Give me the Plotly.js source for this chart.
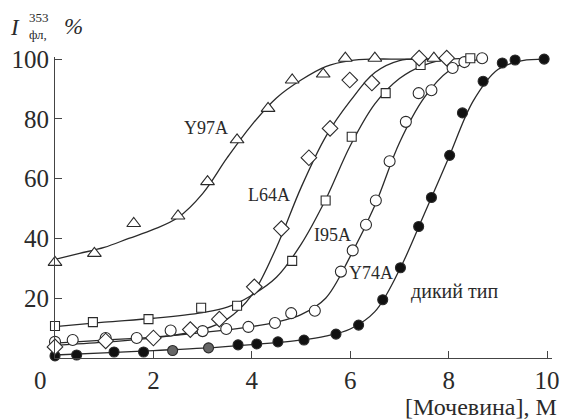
<!DOCTYPE html>
<html>
<head>
<meta charset="utf-8">
<script src="https://cdn.plot.ly/plotly-3.0.1.min.js"></script>
<style>html,body{margin:0;padding:0;background:#fff;}#chart{width:561px;height:420px;}</style>
</head>
<body>
<div id="chart"></div>
<script>
// ---- measured points ----
var y97aX = [0, 0.8, 1.6, 2.5, 3.1, 3.7, 4.33, 4.82, 5.45, 5.9, 6.5, 7.7];
var y97aY = [32, 35, 45, 47.5, 59, 73, 83.5, 93, 95, 100.3, 100.3, 100.3];

var l64aX = [0, 1.03, 2.0, 2.75, 3.34, 4.05, 4.6, 5.16, 5.59, 5.99, 6.44, 6.94, 7.4, 7.96];
var l64aY = [3.7, 5.7, 6.7, 9.5, 13, 23.8, 43.3, 67, 76.8, 93, 92, 101, 100.3, 100.3];

var i95aX = [0, 0.77, 1.9, 2.97, 3.7, 4.82, 5.5, 6.03, 6.72, 7.43, 7.9, 8.44];
var i95aY = [10.7, 12, 13, 16.8, 17.5, 32.5, 52.7, 74, 88.6, 98, 101, 100.3];

var y74aX = [0, 0.36, 1.03, 1.66, 2.35, 3.0, 3.48, 3.93, 4.47, 4.8, 5.28, 5.81, 6.05, 6.32, 6.52, 6.8, 7.13, 7.39, 7.65, 8.08, 8.32, 8.68];
var y74aY = [5.4, 6, 6.7, 6.7, 9.2, 9, 9.7, 10.4, 11.7, 15, 15.8, 28.9, 36, 44.6, 52.7, 65.8, 79, 88.6, 89.6, 97, 99, 100.3];

var wtX = [0, 0.44, 1.2, 1.8, 2.39, 3.12, 3.72, 4.1, 4.53, 5.06, 5.71, 6.17, 6.66, 7.02, 7.39, 7.65, 8.02, 8.28, 8.7, 9.09, 9.35, 9.94];
var wtY = [0.7, 1, 2, 2, 2.5, 3.4, 4.4, 4.7, 5.4, 6, 8, 11, 19.5, 30.2, 44, 53.7, 67.8, 82, 92.6, 98.7, 99.7, 100];

// ---- fitted curves ----
var y97aFitX = [0, 0.5, 1, 1.5, 2, 2.5, 3, 3.5, 4, 4.5, 5, 5.5, 6, 6.5, 7, 7.7];
var y97aFitY = [33, 35, 37, 40, 43, 47, 55, 67, 78, 87, 93, 97.5, 99.5, 100, 100, 100];

var l64aFitX = [0, 1, 2, 3, 3.5, 4, 4.5, 5, 5.5, 6, 6.5, 7, 7.5, 8];
var l64aFitY = [4.2, 5.3, 6.7, 9.5, 13, 21, 37, 57, 74, 86, 95.5, 99.5, 100, 100];

var i95aFitX = [0, 1, 2, 3, 3.5, 4, 4.5, 5, 5.5, 6, 6.5, 7, 7.5, 8, 8.5];
var i95aFitY = [10.5, 12, 13.3, 15.2, 17, 21, 27, 38, 53, 71, 85, 93.5, 98, 100, 100];

var y74aFitX = [0, 1, 2, 3, 4, 4.5, 5, 5.5, 6, 6.5, 7, 7.5, 8, 8.5, 8.7];
var y74aFitY = [5, 6, 7, 8.5, 10.5, 12, 14.5, 20, 34, 51, 72, 87, 96, 99.5, 100];

var wtFitX = [0, 1, 2, 3, 4, 5, 5.5, 6, 6.5, 7, 7.5, 8, 8.5, 9, 9.5, 10];
var wtFitY = [1, 1.7, 2.5, 3.3, 4.5, 6, 7.3, 9.7, 15.5, 29.5, 48, 67, 86, 96.5, 99.5, 100];

var xTicks = [2, 4, 6, 8, 10];
var yTicks = [20, 40, 60, 80, 100];
var seriesLabels = ['Y97A', 'L64A', 'I95A', 'Y74A', 'дикий тип'];

var SERIF = '"Liberation Serif"';
var INK = '#2a2a2a';

function fit(x, y) {
  return {x: x, y: y, mode: 'lines', type: 'scatter', hoverinfo: 'skip', showlegend: false,
          line: {color: INK, width: 1.3, shape: 'spline', smoothing: 1}, cliponaxis: false};
}
function pts(x, y, symbol, size, fill) {
  return {x: x, y: y, mode: 'markers', type: 'scatter', showlegend: false, cliponaxis: false,
          marker: {symbol: symbol, size: size, color: fill, line: {color: INK, width: 1.1}}};
}

var wtColors = wtX.map(function (v, i) { return (i === 4 || i === 5) ? '#666' : '#111'; });

var data = [
  fit(y97aFitX, y97aFitY), fit(l64aFitX, l64aFitY), fit(i95aFitX, i95aFitY),
  fit(y74aFitX, y74aFitY), fit(wtFitX, wtFitY),
  pts(wtX, wtY, 'circle', 10, wtColors),
  pts(y74aX, y74aY, 'circle', 11, 'white'),
  pts(i95aX, i95aY, 'square', 9, 'white'),
  pts(l64aX, l64aY, 'diamond', 12, 'white'),
  pts(y97aX, y97aY, 'triangle-up', 12, 'white')
];

function lab(text, x, y, size) {
  return {text: text, x: x, y: y, xref: 'x', yref: 'y', showarrow: false,
          font: {family: SERIF, size: size, color: INK}, xanchor: 'center', yanchor: 'middle'};
}
function pap(text, px, py, size, anchor) {
  return {text: text, x: (px - 55) / 497, y: (358 - py) / 301, xref: 'paper', yref: 'paper',
          showarrow: false, font: {family: SERIF, size: size, color: INK},
          xanchor: anchor || 'center', yanchor: 'middle', borderpad: 0};
}

var yTitleIdx = pap('353<br>фл,', 39, 26, 13);
yTitleIdx.align = 'left';

var annotations = [
  lab(seriesLabels[0], 3.07, 76.8, 18),
  lab(seriesLabels[1], 4.35, 54.7, 18),
  lab(seriesLabels[2], 5.63, 41.3, 18),
  lab(seriesLabels[3], 6.42, 28.5, 18),
  lab(seriesLabels[4], 8.11, 22.1, 20),
  pap('<i>I</i>', 15, 28, 23),
  yTitleIdx,
  pap('<i>%</i>', 73, 26, 23),
  pap('[Мочевина], M', 558, 407, 24, 'right'),
  pap('0', 40, 380, 25)
];

var layout = {
  width: 561, height: 420,
  margin: {l: 55, r: 9, t: 57, b: 62, pad: 0},
  paper_bgcolor: '#fff', plot_bgcolor: '#fff',
  showlegend: false,
  font: {family: SERIF, color: INK},
  xaxis: {range: [0, 10.1], showgrid: false, zeroline: false, showline: true, linecolor: '#444', linewidth: 1,
          ticks: 'inside', ticklen: 7, tickcolor: '#444', tickvals: xTicks, ticktext: xTicks.map(String),
          tickfont: {family: SERIF, size: 25, color: INK}},
  yaxis: {range: [0, 100.7], showgrid: false, zeroline: false, showline: true, linecolor: '#444', linewidth: 1,
          ticks: 'inside', ticklen: 7, tickcolor: '#444', tickvals: yTicks, ticktext: yTicks.map(String),
          tickfont: {family: SERIF, size: 25, color: INK}},
  annotations: annotations
};

Plotly.newPlot('chart', data, layout, {displayModeBar: false, staticPlot: true});
</script>
</body>
</html>
